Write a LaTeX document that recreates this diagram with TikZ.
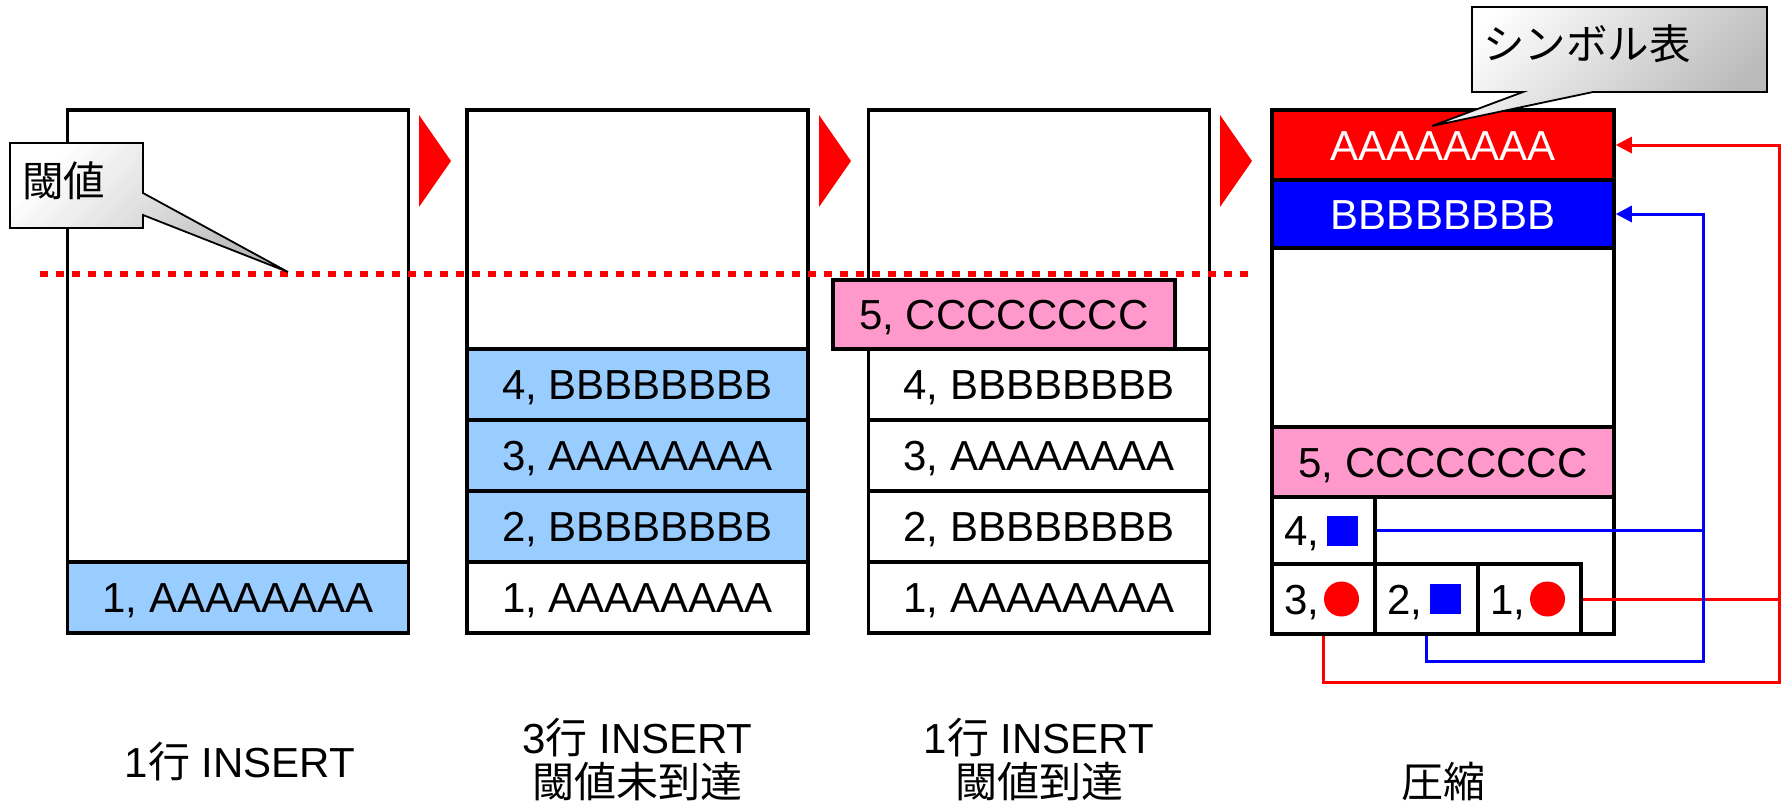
\documentclass[tikz,border=0pt]{standalone}
\usepackage{fontspec}
\setmainfont{Liberation Sans}
\newfontfamily\jp{Noto Sans CJK JP}
\usetikzlibrary{arrows.meta,calc}

\definecolor{rowblue}{HTML}{99CCFF}
\definecolor{rowpink}{HTML}{FF99CC}

\tikzset{
  big/.style={font=\fontsize{42pt}{46pt}\selectfont},
  panel/.style={draw, line width=3.5pt, minimum width=341pt, minimum height=523pt, inner sep=0pt},
  rowbox/.style={draw, line width=3.5pt, minimum width=341pt, minimum height=71pt, inner sep=0pt,
                 text height=30pt, text depth=0pt, big},
  cellbox/.style={draw, line width=3.5pt, minimum width=103pt, minimum height=70pt, inner sep=0pt},
  celltxt/.style={inner sep=0pt, anchor=west, text height=30pt, text depth=0pt, big},
  phaselabel/.style={inner sep=0pt, text height=30pt, text depth=0pt, big},
  threshold/.style={red, line width=6.5pt, dash pattern=on 8pt off 8pt},
  balloon/.style={draw=black, line width=1.8pt, top color=white, bottom color=black!27, shading angle=45},
  calltxt/.style={inner sep=0pt, anchor=base west, font=\fontsize{41.5pt}{46pt}\selectfont\jp},
  link/.style={line width=3pt},
  linkarrow/.style={-{Triangle[length=16pt,width=16pt]}},
}

\begin{document}
\begin{tikzpicture}[x=1pt, y=-1pt]
\useasboundingbox (0,0) rectangle (1783,803);

% --- stage 1: one row inserted
\node[panel] (p1) at (238,371.5) {};
\node[rowbox, fill=rowblue] (p1r1) at (238,597.5) {1, AAAAAAAA};

% --- stage 2: three more rows, threshold not reached
\node[panel] (p2) at (637.5,371.5) {};
\node[rowbox, fill=rowblue] (p2r4) at (637.5,384.5) {4, BBBBBBBB};
\node[rowbox, fill=rowblue] (p2r3) at (637.5,455.5) {3, AAAAAAAA};
\node[rowbox, fill=rowblue] (p2r2) at (637.5,526.5) {2, BBBBBBBB};
\node[rowbox] (p2r1) at (637.5,597.5) {1, AAAAAAAA};

% --- stage 3: one more row, threshold reached
\node[panel] (p3) at (1039,371.5) {};
\node[rowbox] (p3r4) at (1039,384.5) {4, BBBBBBBB};
\node[rowbox] (p3r3) at (1039,455.5) {3, AAAAAAAA};
\node[rowbox] (p3r2) at (1039,526.5) {2, BBBBBBBB};
\node[rowbox] (p3r1) at (1039,597.5) {1, AAAAAAAA};
\node[rowbox, fill=rowpink, minimum width=342pt, minimum height=69pt] (p3r5) at (1004,314.5) {5, CCCCCCCC};

% --- stage 4: compressed page with symbol table
\node[panel, minimum width=342pt, minimum height=524pt] (p4) at (1443,372) {};
\node[rowbox, minimum width=342pt, minimum height=70pt, fill=red, text=white] (symA) at (1443,145) {AAAAAAAA};
\node[rowbox, minimum width=342pt, minimum height=68pt, fill=blue, text=white] (symB) at (1443,214) {BBBBBBBB};
\node[rowbox, minimum width=342pt, minimum height=70pt, fill=rowpink] (p4r5) at (1443,462) {5, CCCCCCCC};

\node[cellbox, minimum height=67pt] (c4) at (1323.5,530.5) {};
\node[cellbox] (c3) at (1323.5,599) {};
\node[cellbox] (c2) at (1426.5,599) {};
\node[cellbox] (c1) at (1529.5,599) {};

\node[celltxt] (t4) at ([xshift=14pt]c4.west) {4,};
\node[celltxt] (t3) at ([xshift=14pt]c3.west) {3,};
\node[celltxt] (t2) at ([xshift=14pt]c2.west) {2,};
\node[celltxt] (t1) at ([xshift=14pt]c1.west) {1,};

\fill[blue] ($(c4.center)+(3,-15)$) rectangle +(31,30);
\fill[red]  ($(c3.center)+(18,0)$) circle[radius=17.5];
\fill[blue] ($(c2.center)+(3,-15)$) rectangle +(31,30);
\fill[red]  ($(c1.center)+(18,0)$) circle[radius=17.5];

% references from the compressed cells back to the symbol table
\coordinate (redturn) at (1779,682);
\coordinate (blueturn) at (1703,661);
\draw[link, red, linkarrow] (c3.south) |- (redturn) |- (symA.east);
\draw[link, red] (c1.east) -- (c1.east -| redturn);
\draw[link, blue, linkarrow] (c2.south) |- (blueturn) |- (symB.east);
\draw[link, blue] (c4.east) -- (c4.east -| blueturn);

% --- step markers between the stages
\foreach \dx in {0,400,801}{
  \fill[red] (419+\dx,115) -- (451+\dx,161) -- (419+\dx,207) -- cycle;
}

% --- threshold line
\draw[threshold] (40,274) -- (1250,274);

% --- callouts
\path[balloon] (10,143) -- (143,143) -- (143,193) -- (288,272) -- (143,215)
  -- (143,228) -- (10,228) -- cycle;
\node[calltxt] (thrlabel) at (22,196) {閾値};

\path[balloon] (1472,7) -- (1767,7) -- (1767,92) -- (1593,92) -- (1432,126)
  -- (1523,92) -- (1472,92) -- cycle;
\node[calltxt] (symlabel) at (1483,59) {シンボル表};

% --- stage captions
\node[phaselabel] (lab1)  at (240,762)   {1{\jp 行} INSERT};
\node[phaselabel] (lab2a) at (637.5,738) {3{\jp 行} INSERT};
\node[phaselabel] (lab2b) at (637.5,782) {\jp 閾値未到達};
\node[phaselabel] (lab3a) at (1039,738)  {1{\jp 行} INSERT};
\node[phaselabel] (lab3b) at (1039,782)  {\jp 閾値到達};
\node[phaselabel] (lab4)  at (1443,782)  {\jp 圧縮};
\end{tikzpicture}
\end{document}
